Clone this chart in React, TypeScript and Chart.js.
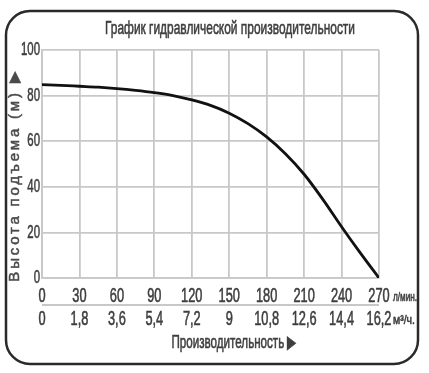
import React, { useEffect, useRef } from "react";
import { Chart, registerables } from "chart.js";

Chart.register(...registerables);

const flowLpm = [0, 15, 30, 45, 60, 75, 90, 105, 120, 135, 150, 165, 180, 195, 210, 225, 240, 255, 270];
const headM = [84.8, 84.5, 84.1, 83.7, 83.1, 82.3, 81.3, 80.0, 78.1, 75.7, 72.3, 67.7, 61.9, 54.5, 45.5, 34.5, 22.5, 11.0, 0];
const xTicksLpm = [0, 30, 60, 90, 120, 150, 180, 210, 240, 270];
const xTicksM3h = ["0", "1,8", "3,6", "5,4", "7,2", "9", "10,8", "12,6", "14,4", "16,2"];
const yTicks = [0, 20, 40, 60, 80, 100];
const chartTitle = "График гидравлической производительности";
const yTitle = "Высота подъема (м) ▶";
const xTitle = "Производительность ▶";
const unitLpm = "л/мин.";
const unitM3h = "м³/ч.";

const FAMILY = '"Liberation Sans", Arial, sans-serif';
const TEXT = "#3e3e3e";
const GRID = "#c8c8c8";

function drawScaled(ctx: any, text: string, x: number, y: number, font: string, sx: number, align: string) {
  ctx.save();
  ctx.font = font;
  ctx.translate(x, y);
  ctx.scale(sx, 1);
  ctx.textAlign = align;
  ctx.textBaseline = "middle";
  ctx.lineWidth = 0.6;
  ctx.strokeStyle = ctx.fillStyle;
  ctx.fillText(text, 0, 0);
  ctx.strokeText(text, 0, 0);
  ctx.restore();
}

function drawFit(ctx: any, text: string, x: number, y: number, font: string, width: number, align: string) {
  ctx.save();
  ctx.font = font;
  const w = ctx.measureText(text).width;
  ctx.restore();
  drawScaled(ctx, text, x, y, font, width / w, align);
}

const extras = {
  id: "extras",
  beforeDraw(chart: any) {
    const ctx = chart.ctx;
    ctx.save();
    ctx.fillStyle = "#ffffff";
    ctx.fillRect(0, 0, chart.width, chart.height);
    ctx.beginPath();
    ctx.roundRect(6, 11, 412, 353, 24);
    ctx.lineWidth = 2.5;
    ctx.strokeStyle = "#2a2a2a";
    ctx.stroke();
    ctx.restore();
  },
  afterDraw(chart: any) {
    const ctx = chart.ctx;
    const xs = chart.scales.x;
    const ys = chart.scales.y;
    ctx.save();
    ctx.fillStyle = TEXT;

    drawFit(ctx, chartTitle, 230, 29, `19px ${FAMILY}`, 250, "center");

    // y tick labels
    yTicks.forEach((v) => {
      drawScaled(ctx, String(v), 40, ys.getPixelForValue(v), `19px ${FAMILY}`, 0.6, "right");
    });

    // first row of x tick labels (l/min)
    xTicksLpm.forEach((v) => {
      drawScaled(ctx, String(v), xs.getPixelForValue(v), 296, `20px ${FAMILY}`, 0.64, "center");
    });

    // separator line between the two x rows
    ctx.beginPath();
    ctx.moveTo(xs.getPixelForValue(0), 305);
    ctx.lineTo(xs.getPixelForValue(270), 305);
    ctx.strokeStyle = GRID;
    ctx.lineWidth = 2;
    ctx.stroke();

    // second row (m3/h)
    xTicksLpm.forEach((v, i) => {
      drawScaled(ctx, xTicksM3h[i], xs.getPixelForValue(v), 319, `20px ${FAMILY}`, 0.64, "center");
    });

    drawFit(ctx, unitLpm, 393, 297, `13px ${FAMILY}`, 24, "left");
    drawFit(ctx, unitM3h, 393, 320, `13px ${FAMILY}`, 22, "left");

    drawFit(ctx, xTitle, 234, 343, `18px ${FAMILY}`, 125, "center");

    // rotated y title
    ctx.save();
    ctx.translate(15, 176.5);
    ctx.rotate(-Math.PI / 2);
    ctx.font = `15px ${FAMILY}`;
    const base = ctx.measureText(yTitle).width;
    const spacing = Math.max(0, (213 - base) / yTitle.length);
    (ctx as any).letterSpacing = `${spacing.toFixed(2)}px`;
    ctx.textAlign = "center";
    ctx.textBaseline = "middle";
    ctx.fillStyle = "#4a4a4a";
    ctx.strokeStyle = "#4a4a4a";
    ctx.lineWidth = 0.5;
    ctx.fillText(yTitle, spacing / 2, 0);
    ctx.strokeText(yTitle, spacing / 2, 0);
    ctx.restore();

    ctx.restore();
  },
};

export default function App() {
  const ref = useRef<HTMLCanvasElement | null>(null);
  useEffect(() => {
    if (!ref.current) return;
    const chart = new Chart(ref.current, {
      type: "line",
      data: {
        datasets: [
          {
            data: flowLpm.map((x, i) => ({ x, y: headM[i] })),
            borderColor: "#111111",
            borderWidth: 2.8,
            pointRadius: 0,
            cubicInterpolationMode: "monotone",
            fill: false,
          },
        ],
      },
      options: {
        animation: false,
        responsive: false,
        layout: { padding: { top: 50, right: 50, left: 0, bottom: 0 } },
        plugins: { legend: { display: false }, tooltip: { enabled: false }, title: { display: false } },
        scales: {
          x: {
            type: "linear",
            min: 0,
            max: 270,
            afterBuildTicks: (s: any) => {
              s.ticks = xTicksLpm.map((v) => ({ value: v }));
            },
            afterFit: (s: any) => {
              s.height = 95;
            },
            grid: { color: GRID, lineWidth: 1.8, drawTicks: false },
            border: { color: GRID, width: 1.8 },
            ticks: { display: false },
          },
          y: {
            min: 0,
            max: 100,
            afterBuildTicks: (s: any) => {
              s.ticks = yTicks.map((v) => ({ value: v }));
            },
            afterFit: (s: any) => {
              s.width = 42;
            },
            grid: { color: GRID, lineWidth: 1.8, drawTicks: false },
            border: { color: GRID, width: 1.8 },
            ticks: { display: false },
          },
        },
      },
      plugins: [extras],
    });
    return () => chart.destroy();
  }, []);
  return (
    <div style={{ position: "fixed", left: 0, top: 0, width: 429, height: 373, background: "#fff" }}>
      <canvas ref={ref} width={429} height={373} style={{ display: "block", width: 429, height: 373 }} />
    </div>
  );
}
